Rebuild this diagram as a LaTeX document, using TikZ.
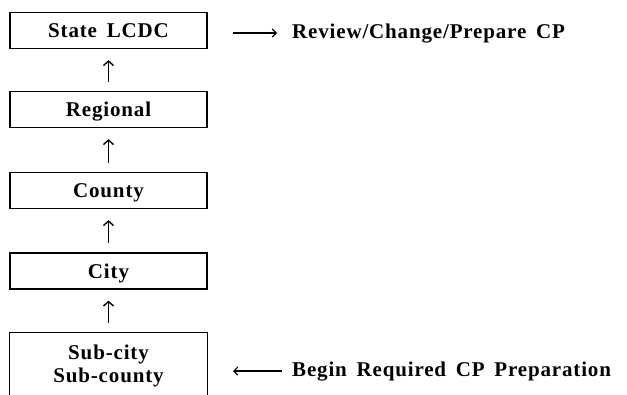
\documentclass[tikz,border=0pt]{standalone}
\usepackage{fontspec}
\setmainfont{Liberation Serif}[LetterSpace=4, WordSpace=1.6]
\usepackage{tikz}
\usetikzlibrary{arrows.meta}
\tikzset{
    level/.style={draw, line width=1.2pt, minimum width=197pt, minimum height=36pt,
        inner sep=0pt, text height=14pt, text depth=0pt, font=\fontsize{21}{23}\selectfont\bfseries},
    note/.style={anchor=west, inner sep=0pt, text height=10pt, text depth=0pt,
        font=\fontsize{21}{23}\selectfont\bfseries},
    up/.style={-{Straight Barb[length=4.5pt,width=10pt]}, line width=1.4pt,
        shorten <=9pt, shorten >=11pt},
    side/.style={-{Straight Barb[length=4pt,width=8pt]}, line width=1.1pt}}

\begin{document}
\begin{tikzpicture}[x=1pt, y=-1pt]
        \useasboundingbox (0,0) rectangle (627,394);

            \node[level] (state) at (108.5,30.5) {State LCDC};
            \node[level] (regional) at (108.5,109.5) {Regional};
            \node[level] (county) at (108.5,190.5) {County};
            \node[level] (city) at (108.5,271) {City};
            \node[level, draw=none, text height=, text depth=, minimum height=66pt, align=center] (sub) at (108.5,366) {Sub-city\\Sub-county};
            \draw[line width=1.2pt] (sub.south west) -- (sub.north west) -- (sub.north east) -- (sub.south east);

            \draw[up] (regional) -- (state);
            \draw[up] (county) -- (regional);
            \draw[up] (city) -- (county);
            \draw[up] (sub) -- (city);

            \node[note] (review) at (292,33) {Review/Change/Prepare CP};
            \node[note] (begin) at (292,371) {Begin Required CP Preparation};
            \coordinate (rtail) at (233,33);
            \coordinate (bhead) at (233,371);

            \draw[side, shorten >=15pt] (rtail) -- (review.west);
            \draw[side, shorten <=10pt] (begin.west) -- (bhead);

        \end{tikzpicture}
\end{document}
